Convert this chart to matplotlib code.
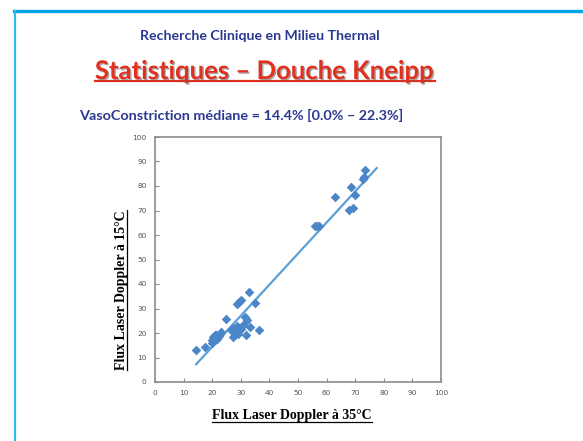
import matplotlib.pyplot as plt
import matplotlib.patheffects as pe
from matplotlib.lines import Line2D
import numpy as np

# values
flux_35 = [14.4, 17.6, 20.0, 20.1, 21.0, 20.4, 21.4, 22.2, 22.8, 21.8, 22.4, 23.0, 21.0,
           24.7, 26.5, 27.1, 27.4, 28.0, 28.6, 28.9, 28.4, 28.8, 29.5, 30.1, 30.2, 30.7,
           31.5, 32.1, 31.7, 33.3, 33.0, 35.0, 36.4,
           55.8, 56.6, 57.2, 63.1, 68.5, 68.0, 69.1, 69.9, 72.6, 73.2, 73.5]
flux_15 = [12.9, 14.4, 17.3, 15.9, 19.0, 18.2, 19.3, 18.4, 19.7, 17.6, 18.9, 20.3, 17.0,
           25.6, 21.4, 21.9, 18.2, 19.7, 23.0, 19.5, 20.7, 32.0, 32.7, 33.3, 21.6, 23.4,
           26.4, 25.4, 19.3, 22.4, 36.6, 32.2, 21.4,
           63.5, 63.5, 63.8, 75.6, 79.5, 70.2, 70.9, 76.2, 83.0, 83.5, 86.7]
ticks = list(range(0, 101, 10))

title1 = "Recherche Clinique en Milieu Thermal"
title2 = "Statistiques \u2013 Douche Kneipp"
title3 = "VasoConstriction m\u00e9diane = 14.4% [0.0% \u2013 22.3%]"
xlabel = "Flux Laser Doppler \u00e0 35\u00b0C"
ylabel = "Flux Laser Doppler \u00e0 15\u00b0C"

W, H = 583, 441
fig = plt.figure(figsize=(W / 100, H / 100), dpi=100)

# slide frame
fig.add_artist(Line2D([14 / W, 1], [1 - 11 / H, 1 - 11 / H], color="#00a5e6", lw=2.4))
fig.add_artist(Line2D([15 / W, 15 / W], [0, 1 - 11 / H], color="#2bbdf0", lw=1.6))

ax = fig.add_axes([155 / W, 1 - 382 / H, 286 / W, 245 / H])
x = np.array(flux_35)
y = np.array(flux_15)
ax.scatter(x, y, marker="D", s=24, color="#4a86c8", zorder=3, linewidths=0)

slope, inter = np.polyfit(x, y, 1)
xl = np.array([x.min(), x.max() + 4])
ax.plot(xl, slope * xl + inter, color="#5aa0d8", lw=1.6, zorder=2)

ax.set_xlim(0, 100)
ax.set_ylim(0, 100)
ax.set_xticks(ticks)
ax.set_yticks(ticks)
for s in ax.spines.values():
    s.set_color("#8c8c8c")
    s.set_linewidth(1.2)
ax.tick_params(direction="in", length=3, color="#8c8c8c", labelsize=5.3,
               labelcolor="#555555", pad=6)

# titles
t1 = fig.text(260 / W, 1 - 36 / H, title1, ha="center", va="center",
              family="Lato", weight="bold", fontsize=10.2, color="#2b3990")
t2 = fig.text(265 / W, 1 - 71 / H, title2, ha="center", va="center",
              family="Lato", weight="bold", fontsize=18.5, color="#e2301f",
              path_effects=[pe.withSimplePatchShadow(offset=(1, -1), shadow_rgbFace="#555555", alpha=0.5)])
t3 = fig.text(241 / W, 1 - 115 / H, title3, ha="center", va="center",
              family="Lato", weight="bold", fontsize=10.4, color="#2b3990")

tx = fig.text(292 / W, 1 - 416 / H, xlabel, ha="center", va="center",
              family="Liberation Serif", weight="bold", fontsize=10, color="black")
ty = fig.text(122 / W, 1 - 290 / H, ylabel, ha="center", va="center", rotation=90,
              family="Liberation Serif", weight="bold", fontsize=10, color="black")

# underlines
fig.canvas.draw()
r = fig.canvas.get_renderer()
inv = fig.transFigure.inverted()
bb = t2.get_window_extent(r).transformed(inv)
fig.add_artist(Line2D([bb.x0, bb.x1], [bb.y0 + 0.004, bb.y0 + 0.004], color="#e2301f", lw=1.6,
                      path_effects=[pe.withSimplePatchShadow(offset=(1, -1), shadow_rgbFace="#555555", alpha=0.5)]))
bb = tx.get_window_extent(r).transformed(inv)
fig.add_artist(Line2D([bb.x0, bb.x1], [bb.y0 + 0.002, bb.y0 + 0.002], color="black", lw=0.9))
bb = ty.get_window_extent(r).transformed(inv)
fig.add_artist(Line2D([bb.x1 - 0.002, bb.x1 - 0.002], [bb.y0, bb.y1], color="black", lw=0.9))

fig.savefig("out.png", dpi=100)
